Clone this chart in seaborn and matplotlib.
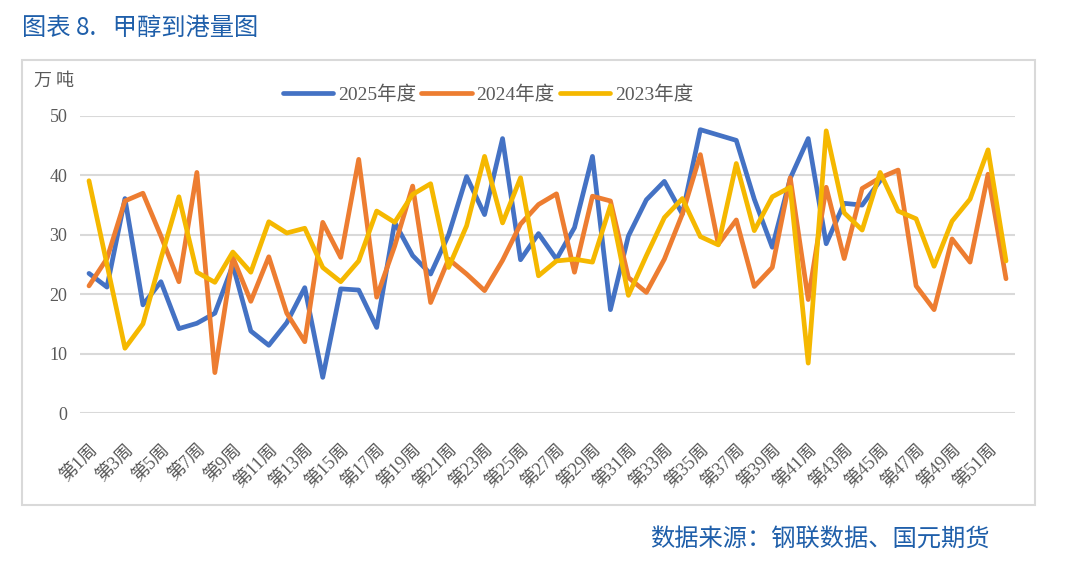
import numpy as np
import pandas as pd
import matplotlib
matplotlib.use("Agg")
import matplotlib.pyplot as plt
from matplotlib.patches import Rectangle
import seaborn as sns

# ---------------- data ----------------
week_labels = [f"第{i}周" for i in range(1, 53)]
series_names = ["2025年度", "2024年度", "2023年度"]

y2025 = [23.5, 21.2, 36.1, 18.2, 22.1, 14.2, 15.1, 16.8, 24.9, 13.8,
         11.4, 15.2, 21.1, 6.0, 20.9, 20.7, 14.4, 32.1, 26.5, 23.4,
         30.0, 39.8, 33.4, 46.2, 25.8, 30.2, 25.9, 31.2, 43.2, 17.4,
         29.8, 35.9, 39.0, 33.5, 47.7, 46.8, 45.9, 36.0, 27.9, 39.5,
         46.2, 28.5, 35.3, 35.0, 39.1]
y2024 = [21.4, 26.0, 35.7, 37.0, 29.8, 22.1, 40.5, 6.8, 26.2, 18.8,
         26.3, 16.8, 12.0, 32.1, 26.2, 42.7, 19.5, 28.1, 38.2, 18.6,
         25.9, 23.4, 20.6, 25.7, 31.8, 35.1, 36.9, 23.7, 36.5, 35.7,
         22.8, 20.3, 25.9, 33.5, 43.5, 28.4, 32.5, 21.3, 24.5, 39.6,
         19.1, 38.0, 26.0, 37.8, 39.6, 40.9, 21.4, 17.4, 29.3, 25.4,
         40.2, 22.6]
y2023 = [39.1, 25.0, 10.9, 15.0, 26.0, 36.4, 23.7, 22.0, 27.1, 23.7,
         32.2, 30.3, 31.1, 24.5, 22.1, 25.6, 34.0, 32.1, 36.8, 38.6,
         24.5, 31.5, 43.2, 32.0, 39.6, 23.1, 25.6, 25.9, 25.4, 34.9,
         19.8, 26.5, 32.9, 36.1, 29.7, 28.3, 42.0, 30.7, 36.4, 38.0,
         8.4, 47.5, 33.7, 30.8, 40.5, 34.0, 32.7, 24.7, 32.3, 36.0,
         44.3, 25.6]
y_ticks = [0, 10, 20, 30, 40, 50]

colors = ["#4472C4", "#ED7D31", "#F5B800"]

rows = []
for name, vals in zip(series_names, [y2025, y2024, y2023]):
    for i, v in enumerate(vals):
        rows.append({"idx": i, "week": week_labels[i], "val": v, "series": name})
df = pd.DataFrame(rows)

# ---------------- figure ----------------
sns.set_theme(style="white")
plt.rcParams["font.family"] = ["Liberation Serif", "Noto Sans CJK SC"]

W, H = 1065, 562
fig = plt.figure(figsize=(W / 100, H / 100), dpi=100)
fig.patch.set_facecolor("white")

# outer frame
fig.add_artist(Rectangle((22 / W, 1 - 505 / H), (1035 - 22) / W, (505 - 60) / H,
                         transform=fig.transFigure, fill=False,
                         edgecolor="#D9D9D9", linewidth=1.5))

ax = fig.add_axes([80 / W, 1 - 413 / H, (1015 - 80) / W, (413 - 116) / H])
sns.lineplot(data=df, x="idx", y="val", hue="series", hue_order=series_names,
             palette=colors, linewidth=3.4, ax=ax, errorbar=None)
for ln in ax.lines:
    ln.set_solid_joinstyle("round")
    ln.set_solid_capstyle("round")

ax.set_xlim(-0.5, 51.5)
ax.set_ylim(0, 50)
ax.set_yticks(y_ticks)
ax.set_yticklabels([str(t) for t in y_ticks], fontsize=13, color="#595959")
ax.yaxis.grid(True, color="#D9D9D9", linewidth=1.5)
ax.set_axisbelow(True)
ax.set_xticks(list(range(0, 52, 2)))
ax.set_xticklabels(week_labels[0:52:2], rotation=45, ha="right", va="top",
                   rotation_mode="anchor", fontsize=13, color="#595959")
ax.tick_params(axis="x", length=0, pad=20)
ax.tick_params(axis="y", length=0, pad=9)
ax.set_xlabel("")
ax.set_ylabel("")
for s in ax.spines.values():
    s.set_visible(False)

handles, labels = ax.get_legend_handles_labels()
ax.get_legend().remove()
fig.legend(handles, labels, loc="center", bbox_to_anchor=(488 / W, 1 - 95 / H),
           ncol=3, frameon=False, fontsize=14, handlelength=2.6,
           handletextpad=0.25, columnspacing=0.25, labelcolor="#595959")

fig.text(34 / W, 1 - 81 / H, "万 吨", fontsize=13, color="#595959",
         ha="left", va="center", family=["Noto Sans CJK SC"])

fig.text(22 / W, 1 - 28 / H, "图表 8.   甲醇到港量图", fontsize=17.5,
         color="#1F5FAA", ha="left", va="center", family=["Noto Sans CJK SC"])
fig.text(990 / W, 1 - 540 / H, "数据来源：钢联数据、国元期货", fontsize=17.5,
         color="#1F5FAA", ha="right", va="center", family=["Noto Sans CJK SC"])

fig.savefig("out.png", dpi=100)
